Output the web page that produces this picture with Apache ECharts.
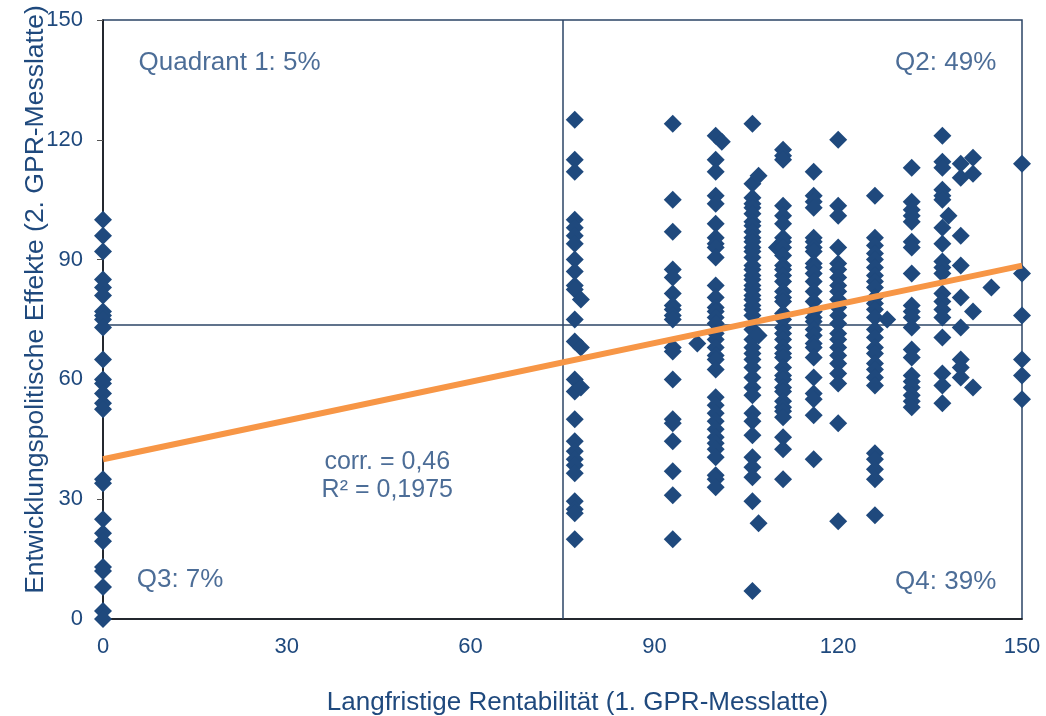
<!DOCTYPE html>
<html>
<head>
<meta charset="utf-8">
<script src="https://cdn.jsdelivr.net/npm/echarts@6/dist/echarts.min.js"></script>
<style>
  html, body { margin: 0; padding: 0; background: #fff; }
  #chart { width: 1046px; height: 716px; }
</style>
</head>
<body>
<div id="chart"></div>
<script>
  // ticks
  let xTicks = [0, 30, 60, 90, 120, 150]
  let yTicks = [0, 30, 60, 90, 120, 150]

  // scatter columns, y values
  let col0 = [100, 96, 92, 85, 83, 81, 77, 76, 75, 73, 65, 60, 59, 56.5, 54, 52.5, 35, 34, 25, 21.5, 19.5, 13, 12, 8, 2, 0]
  let col77 = [125, 115, 112, 100, 98, 96, 94, 90, 87, 83.5, 82.5, 75, 69.5, 60, 57, 50, 44.5, 42, 40, 38.5, 36.5, 29.5, 27.5, 26.5, 20]
  let col78 = [80, 68, 58]
  let col93 = [124, 105, 97, 87.5, 85.5, 81.5, 78.5, 77.5, 76, 75, 68, 67, 60, 50, 49, 44.5, 37, 31, 20]
  let col97 = [69]
  let col100 = [121, 115, 112, 106, 104, 99, 95.5, 94, 93, 90.5, 83.5, 80.5, 78, 77, 75.5, 74, 71.5, 70, 68, 66, 65, 62.5, 55.5, 53.5, 51.5, 49.5, 47.5, 45.5, 44, 42.5, 40.5, 36, 35, 33]
  let col101 = [119.5]
  let col106 = [124, 109, 105.5, 104, 103, 101.5, 99.5, 98.5, 97, 95.5, 94.5, 93, 92, 90.5, 88.5, 87.5, 86, 85, 83.5, 82.5, 81, 80, 78.5, 77.5, 76, 72.5, 70, 68, 66.5, 65, 63, 60.5, 58, 56, 51.5, 49.5, 46, 40.5, 38, 35.5, 29.5, 7]
  let col107 = [111, 71, 24]
  let col110 = [93]
  let col111 = [117.5, 116, 115, 103.5, 101, 99, 95.5, 94.5, 93, 91, 88.5, 87.5, 86, 84.5, 82, 80.5, 79.5, 76.5, 75, 73, 71.5, 70, 68, 66.5, 65.5, 63, 61, 60, 58, 57, 54.5, 53, 52, 50.5, 45.5, 42.5, 35]
  let col116 = [112, 106, 104.5, 103, 95.5, 94.5, 93, 92, 89, 88, 86.5, 84.5, 82, 79.5, 77, 75.5, 74.5, 72.5, 71, 69, 68, 65.5, 60.5, 56.5, 55, 51, 40]
  let col120 = [120, 103.5, 101, 93, 89, 87.5, 85.5, 83.5, 82, 80, 78, 76, 74, 71.5, 70, 68, 66, 64, 61.5, 59, 49, 24.5]
  let col126 = [106, 95.5, 93.5, 91.5, 90, 88, 86, 84.5, 83, 80.5, 79, 77.5, 75.5, 72.5, 70.5, 68, 66.5, 64, 62.5, 60.5, 58.5, 41.5, 40, 37.5, 35, 26]
  let col128 = [75]
  let col132 = [113, 104.5, 102.5, 101, 99.5, 94.5, 93, 86.5, 78.5, 77, 75.5, 73, 67.5, 65.5, 61, 59.5, 58, 56, 54.5, 53]
  let col137 = [121, 114.5, 113, 107.5, 106, 105, 98, 94, 89.5, 88, 86.5, 81.5, 79.5, 77.5, 75.5, 70.5, 61.5, 58.5, 54]
  let col138 = [101]
  let col140 = [114, 110.5, 96, 88.5, 80.5, 73, 65, 63, 60.5]
  let col142 = [115.5, 111.5, 77, 58]
  let col145 = [83]
  let col150 = [114, 86.5, 76, 65, 61, 55]

  let columns = [
    [0, col0], [77, col77], [78, col78], [93, col93], [97, col97],
    [100, col100], [101, col101], [106, col106], [107, col107], [110, col110],
    [111, col111], [116, col116], [120, col120], [126, col126], [128, col128],
    [132, col132], [137, col137], [138, col138], [140, col140], [142, col142],
    [145, col145], [150, col150]
  ]

  // regression line end points and quadrant split
  let trendX = [0, 150]
  let trendY = [40, 88.5]
  let splitX = 75
  let splitY = 73.7

  // annotations [x, y, text, align, size]
  let notes = [
    [5.8, 139.4, 'Quadrant 1: 5%', 'left', 26],
    [145.8, 139.4, 'Q2: 49%', 'right', 26],
    [5.5, 9.7, 'Q3: 7%', 'left', 26],
    [145.8, 9.2, 'Q4: 39%', 'right', 26],
    [46.4, 39.2, 'corr. = 0,46', 'center', 25],
    [46.4, 32.4, 'R² = 0,1975', 'center', 25]
  ]

  let navy = '#1F497D'
  let font = '"Liberation Sans", Arial, sans-serif'

  let points = []
  for (let c of columns) {
    for (let v of c[1]) points.push([c[0], v])
  }

  let chart = echarts.init(document.getElementById('chart'))
  let option = {
    animation: false,
    textStyle: { fontFamily: font },
    grid: {
      left: 103, right: 24, top: 20, bottom: 97,
      containLabel: false, outerBoundsMode: 'none',
      show: true, borderColor: '#2B4466', borderWidth: 1.5, backgroundColor: 'transparent'
    },
    xAxis: {
      type: 'value', min: xTicks[0], max: xTicks[xTicks.length - 1], interval: 30,
      name: 'Langfristige Rentabilität (1. GPR-Messlatte)',
      nameLocation: 'middle', nameGap: 71, nameMoveOverlap: false,
      nameTextStyle: { color: navy, fontSize: 26, fontFamily: font, padding: [0, 0, 0, 30] },
      axisLine: { show: true, onZero: false, lineStyle: { color: '#111', width: 1.5 } },
      axisTick: { show: false },
      splitLine: { show: false },
      axisLabel: { color: navy, fontSize: 22, margin: 17, fontFamily: font }
    },
    yAxis: {
      type: 'value', min: yTicks[0], max: yTicks[yTicks.length - 1], interval: 30,
      name: 'Entwicklungspolitische Effekte (2. GPR-Messlatte)',
      nameLocation: 'middle', nameGap: 54, nameMoveOverlap: false,
      nameTextStyle: { color: navy, fontSize: 26.5, fontFamily: font, padding: [0, 0, 0, 40] },
      axisLine: { show: true, onZero: false, lineStyle: { color: '#111', width: 1.5 } },
      axisTick: { show: true, inside: false, length: 6, lineStyle: { color: '#555' } },
      splitLine: { show: false },
      axisLabel: { color: navy, fontSize: 22, margin: 20, fontFamily: font }
    },
    series: [
      {
        type: 'scatter',
        symbol: 'diamond',
        symbolSize: 18,
        itemStyle: { color: navy, opacity: 1 },
        data: points,
        z: 3,
        markLine: {
          silent: true,
          symbol: 'none',
          label: { show: false },
          lineStyle: { color: '#2B4466', width: 1.5, type: 'solid' },
          data: [{ xAxis: splitX }, { yAxis: splitY }],
          z: 2
        }
      },
      {
        type: 'line',
        data: [[trendX[0], trendY[0]], [trendX[1], trendY[1]]],
        symbol: 'none',
        lineStyle: { color: '#F79646', width: 6 },
        z: 4
      },
      {
        type: 'scatter',
        symbolSize: 0,
        silent: true,
        data: notes.map(n => ({
          value: [n[0], n[1]],
          label: {
            show: true, position: 'inside', formatter: n[2], align: n[3],
            verticalAlign: 'middle', color: navy, fontSize: n[4], fontFamily: font
          }
        })),
        z: 5
      }
    ]
  }
  chart.setOption(option)
</script>
</body>
</html>
